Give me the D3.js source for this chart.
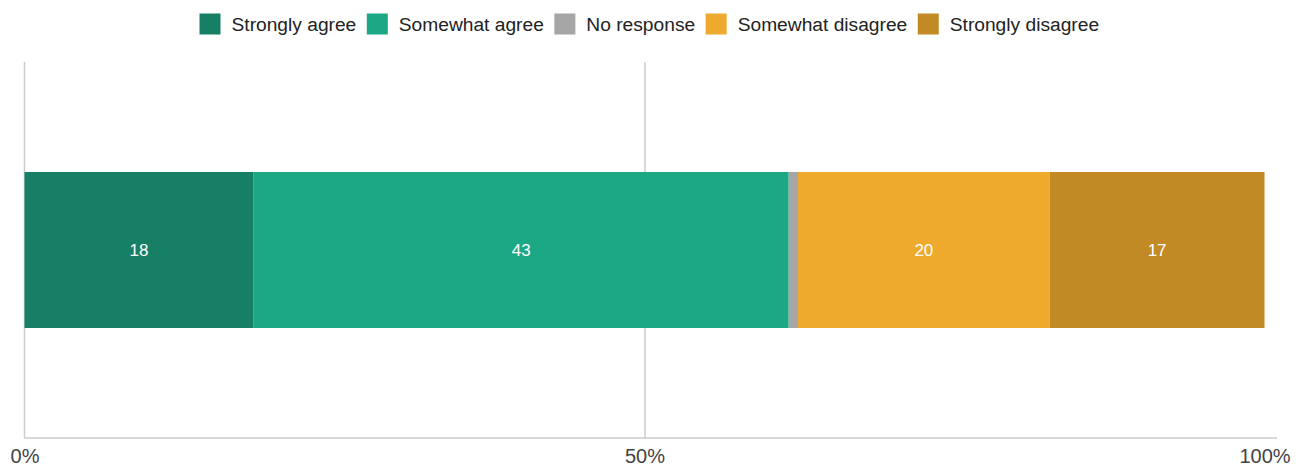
<!DOCTYPE html>
<html>
<head>
<meta charset="utf-8">
<script src="https://cdn.jsdelivr.net/npm/d3@7"></script>
<style>
  html, body { margin: 0; padding: 0; background: #fff; }
  svg { display: block; font-family: "Liberation Sans", Arial, sans-serif; }
</style>
</head>
<body>
<svg id="chart" width="1296" height="467"></svg>
<script>
// ---- data ----
const categories = ["Strongly agree", "Somewhat agree", "No response", "Somewhat disagree", "Strongly disagree"];
const values = [18.48, 43.15, 0.75, 20.30, 17.32];
const rowLabels = [""];
const tickValues = [0, 50, 100];
const tickLabels = ["0%", "50%", "100%"];
const colors = ["#167f65", "#1ca885", "#a6a6a6", "#edaa2d", "#c28a25"];

// ---- layout ----
const W = 1296, H = 467;
const plot = { left: 24.5, right: 1264.5, top: 62, bottom: 438, baselineEnd: 1277 };

const svg = d3.select("#chart");

const x = d3.scaleLinear().domain([0, 100]).range([plot.left, plot.right]);
const y = d3.scaleBand().domain(rowLabels).range([plot.top, plot.bottom]).paddingInner(0).paddingOuter(0.705);

// gridlines (0% and 50%)
svg.append("g")
  .selectAll("line")
  .data(tickValues.filter(v => v < 100))
  .join("line")
  .attr("x1", d => Math.round(x(d)) - 0.5 + (d === 0 ? 0 : 0.5))
  .attr("x2", d => Math.round(x(d)) - 0.5 + (d === 0 ? 0 : 0.5))
  .attr("y1", plot.top)
  .attr("y2", plot.bottom)
  .attr("stroke", "#cccccc")
  .attr("stroke-width", 1.5);

// stacked bar
const total = d3.sum(values);
const ends = d3.cumsum(values.map(v => v / total * 100));
const segs = values.map((v, i) => ({ cat: categories[i], v, x0: i ? ends[i - 1] : 0, x1: ends[i], color: colors[i] }));

const barG = svg.append("g");
barG.selectAll("rect")
  .data(segs)
  .join("rect")
  .attr("x", d => x(d.x0))
  .attr("y", y(""))
  .attr("width", d => x(d.x1) - x(d.x0))
  .attr("height", y.bandwidth())
  .attr("fill", d => d.color);

barG.selectAll("text")
  .data(segs.filter(d => x(d.x1) - x(d.x0) > 30))
  .join("text")
  .attr("x", d => (x(d.x0) + x(d.x1)) / 2)
  .attr("y", y("") + y.bandwidth() / 2)
  .attr("dy", "0.36em")
  .attr("text-anchor", "middle")
  .attr("fill", "#ffffff")
  .attr("font-size", 17)
  .text(d => d3.format(".0f")(d.v));

// baseline
svg.append("line")
  .attr("x1", plot.left - 0.5)
  .attr("x2", plot.baselineEnd)
  .attr("y1", plot.bottom)
  .attr("y2", plot.bottom)
  .attr("stroke", "#cccccc")
  .attr("stroke-width", 1.5);

// x axis labels
const axis = d3.axisBottom(x)
  .tickValues(tickValues)
  .tickFormat((d, i) => tickLabels[i])
  .tickSize(0)
  .tickPadding(0);
const axG = svg.append("g").attr("transform", `translate(0,${plot.bottom})`).call(axis);
axG.select(".domain").remove();
axG.selectAll("text")
  .attr("y", 24.5)
  .attr("dy", 0)
  .attr("fill", "#444444")
  .attr("font-size", 20)
  .attr("font-family", "'Liberation Sans', Arial, sans-serif");

// legend
const legend = svg.append("g");
let lx = 199.5;
categories.forEach((c, i) => {
  const g = legend.append("g");
  g.append("rect")
    .attr("x", lx)
    .attr("y", 13.5)
    .attr("width", 21)
    .attr("height", 21)
    .attr("fill", colors[i]);
  const t = g.append("text")
    .attr("x", lx + 32)
    .attr("y", 31)
    .attr("fill", "#222222")
    .attr("font-size", 19.2)
    .text(c);
  lx += 32 + t.node().getComputedTextLength() + 10.5;
});
</script>
</body>
</html>
